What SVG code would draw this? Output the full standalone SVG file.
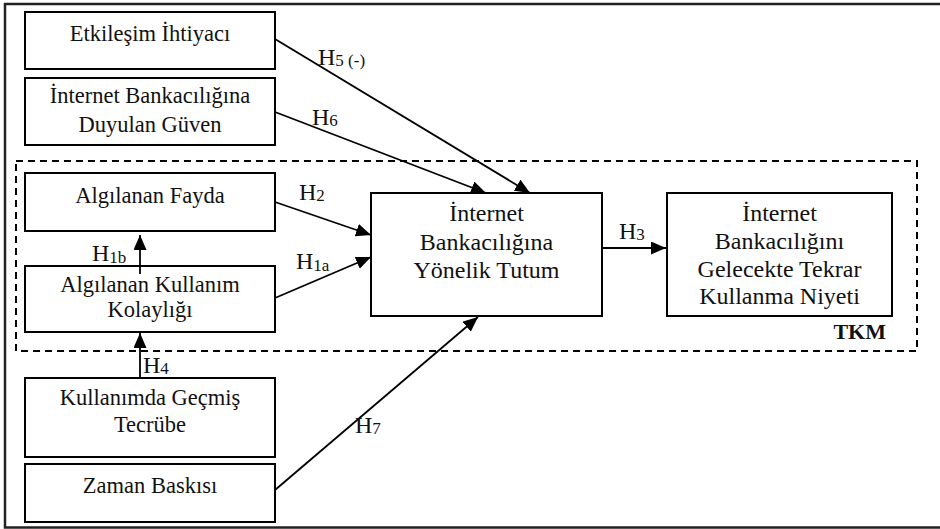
<svg xmlns="http://www.w3.org/2000/svg" width="940" height="529" viewBox="0 0 940 529">
<style>
.box{fill:#fff;stroke:#000;stroke-width:2}
.t{font-family:"Liberation Serif","Times New Roman",serif;font-size:22.5px;fill:#111;text-anchor:middle}
.tb{font-size:24px}
.lab{font-family:"Liberation Serif","Times New Roman",serif;font-size:24px;fill:#111}
.sub{font-size:17px}
.con{stroke:#000;stroke-width:1.8;fill:none}
</style>
<defs>
<marker id="ah" markerUnits="userSpaceOnUse" markerWidth="15" markerHeight="13" refX="15" refY="6.5" orient="auto">
<path d="M0,0 L15,6.5 L0,13 z" fill="#000"/>
</marker>
</defs>
<rect x="5" y="4" width="940" height="523.5" fill="#fff" stroke="#222" stroke-width="2.5"/>
<rect id="tkm-frame" x="16" y="161" width="901" height="190" fill="none" stroke="#000" stroke-width="2" stroke-dasharray="7,5"/>
<text class="lab" x="886" y="339" text-anchor="end" style="font-weight:bold;font-size:22px">TKM</text>

<g id="n-etkilesim"><rect class="box" x="25" y="12" width="250" height="57"/><text class="t" x="150" y="41">Etkileşim İhtiyacı</text></g>
<g id="n-guven"><rect class="box" x="25" y="78" width="250" height="67"/><text class="t" x="150" y="103">İnternet Bankacılığına</text><text class="t" x="150" y="132">Duyulan Güven</text></g>
<g id="n-fayda"><rect class="box" x="25" y="173" width="250" height="58"/><text class="t" x="150" y="203">Algılanan Fayda</text></g>
<g id="n-kolaylik"><rect class="box" x="25" y="266" width="250" height="66"/><text class="t" x="150" y="292">Algılanan Kullanım</text><text class="t" x="150" y="317">Kolaylığı</text></g>
<g id="n-tecrube"><rect class="box" x="25" y="378" width="250" height="79"/><text class="t" x="150" y="405">Kullanımda Geçmiş</text><text class="t" x="150" y="432">Tecrübe</text></g>
<g id="n-zaman"><rect class="box" x="25" y="464" width="250" height="58"/><text class="t" x="150" y="493">Zaman Baskısı</text></g>
<g id="n-tutum"><rect class="box" x="371" y="193" width="231" height="123"/><text class="t tb" x="486.5" y="221">İnternet</text><text class="t tb" x="486.5" y="250">Bankacılığına</text><text class="t tb" x="486.5" y="278">Yönelik Tutum</text></g>
<g id="n-niyet"><rect class="box" x="667" y="193" width="225" height="123"/><text class="t tb" x="779.5" y="221">İnternet</text><text class="t tb" x="779.5" y="249">Bankacılığını</text><text class="t tb" x="779.5" y="277">Gelecekte Tekrar</text><text class="t tb" x="779.5" y="304">Kullanma Niyeti</text></g>

<g id="connectors">
<line class="con" x1="275" y1="39" x2="530" y2="193" marker-end="url(#ah)"/>
<line class="con" x1="275" y1="112" x2="486" y2="193" marker-end="url(#ah)"/>
<line class="con" x1="275" y1="202" x2="371" y2="235" marker-end="url(#ah)"/>
<line class="con" x1="275" y1="298" x2="371" y2="257" marker-end="url(#ah)"/>
<line class="con" x1="140" y1="274" x2="140" y2="235" marker-end="url(#ah)"/>
<line class="con" x1="140" y1="378" x2="140" y2="333" marker-end="url(#ah)"/>
<line class="con" x1="275" y1="490" x2="478" y2="317" marker-end="url(#ah)"/>
<line class="con" x1="602" y1="248" x2="666" y2="248" marker-end="url(#ah)"/>
</g>
<g id="labels">
<text class="lab" x="318" y="65">H<tspan class="sub" dy="1">5 (-)</tspan></text>
<text class="lab" x="312" y="125">H<tspan class="sub" dy="1">6</tspan></text>
<text class="lab" x="299" y="200">H<tspan class="sub" dy="1">2</tspan></text>
<text class="lab" x="296" y="269">H<tspan class="sub" dy="2">1a</tspan></text>
<text class="lab" x="92" y="261">H<tspan class="sub" dy="2">1b</tspan></text>
<text class="lab" x="619" y="239">H<tspan class="sub" dy="1">3</tspan></text>
<text class="lab" x="143" y="373">H<tspan class="sub" dy="1">4</tspan></text>
<text class="lab" x="355" y="433">H<tspan class="sub" dy="1">7</tspan></text>
</g>
</svg>
